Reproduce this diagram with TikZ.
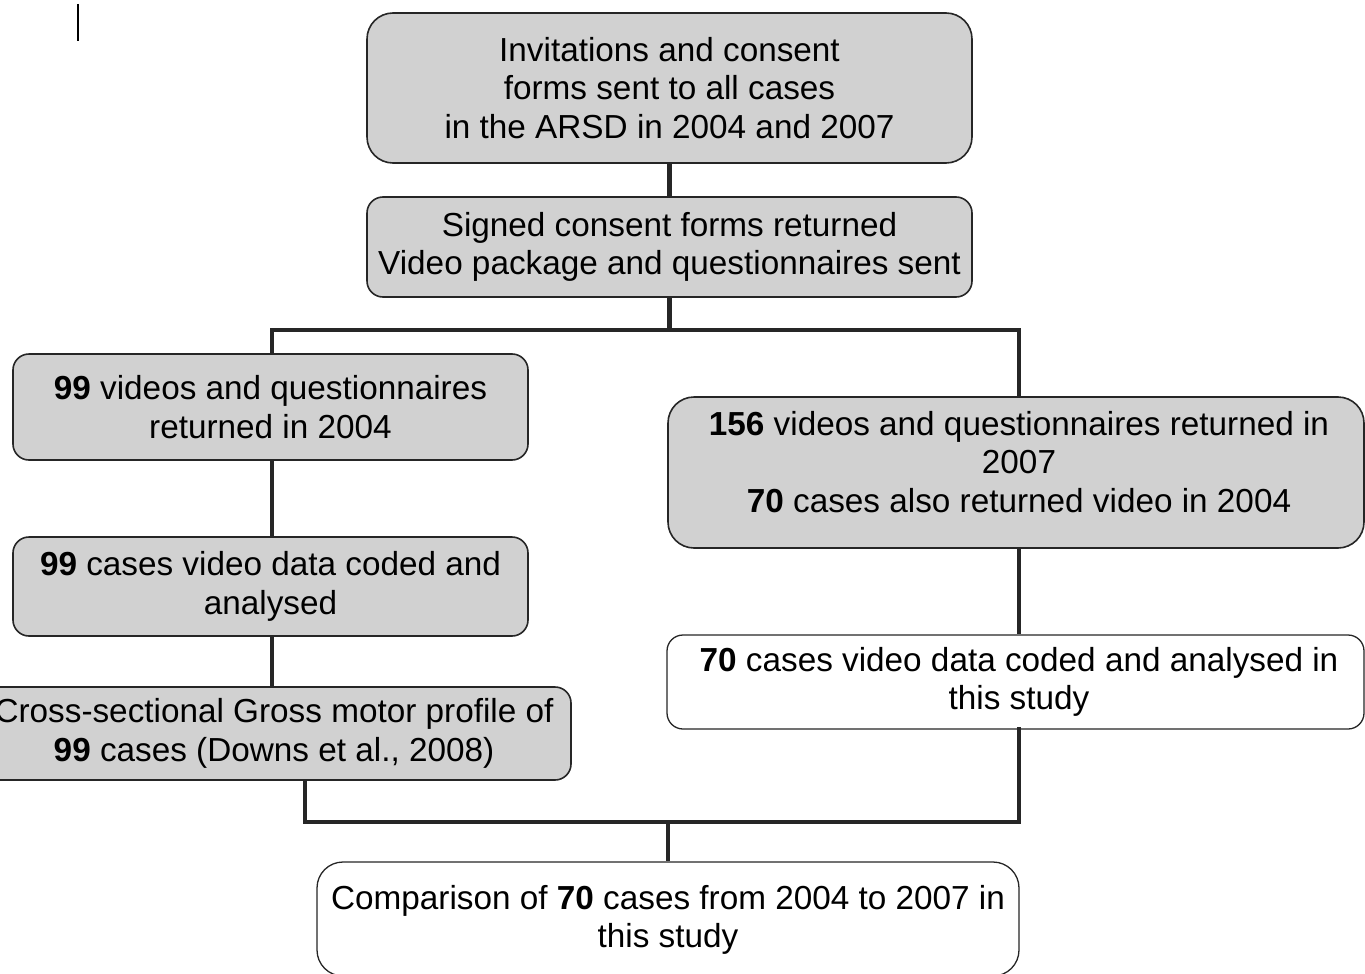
\documentclass[tikz,border=0pt]{standalone}
\usepackage{fontspec}
\setmainfont{Liberation Sans}
\begin{document}
\begin{tikzpicture}[x=1pt,y=-1pt,
  boxg/.style={draw=black!85, line width=1.6pt, fill=black!18, rounded corners=#1, inner sep=0pt},
  boxg/.default=16pt,
  boxw/.style={draw=black!85, line width=1.3pt, fill=white, rounded corners=#1, inner sep=0pt},
  boxw/.default=16pt,
  txt/.style={align=center, inner sep=0pt, font=\fontsize{33.3}{38.3}\selectfont},
  conn/.style={draw=black!85, line width=4.4pt}]
\useasboundingbox (0,0) rectangle (1365,974);
% stray mark
\coordinate (m1) at (78,4);
\coordinate (m2) at (78,41);
\draw[line width=1.8pt] (m1) -- (m2);
% boxes
\node[boxg=26pt, minimum width=605pt, minimum height=150pt] (A) at (669.5,88) {};
\node[txt] (At) at (A.center) {Invitations and consent\\forms sent to all cases\\in the ARSD in 2004 and 2007};
\node[boxg, minimum width=605pt, minimum height=100pt] (B) at (669.5,247) {};
\node[txt] (Bt) at (B.center) {Signed consent forms returned\\Video package and questionnaires sent};
\node[boxg, minimum width=515pt, minimum height=106pt] (C) at (270.5,407) {};
\node[txt] (Ct) at (C.center) {\textbf{99} videos and questionnaires\\returned in 2004};
\node[boxg=26pt, minimum width=696pt, minimum height=151pt] (D) at (1016,472.5) {};
\node[txt] (Dt) at (1019,462) {\textbf{156} videos and questionnaires returned in\\2007\\\textbf{70} cases also returned video in 2004};
\node[boxg, minimum width=515pt, minimum height=99pt] (E) at (270.5,586.5) {};
\node[txt] (Et) at (E.center) {\textbf{99} cases video data coded and\\analysed};
\node[boxg, minimum width=591pt, minimum height=93pt] (F) at (275.5,733.5) {};
\node[txt] (Ft) at (274,733.5) {Cross-sectional Gross motor profile of\\\textbf{99} cases (Downs et al., 2008)};
\node[boxw, minimum width=697pt, minimum height=94pt] (G) at (1015.5,682) {};
\node[txt] (Gt) at (1019,682) {\textbf{70} cases video data coded and analysed in\\this study};
\node[boxw=26pt, minimum width=702pt, minimum height=114pt] (H) at (668,919) {};
\node[txt] (Ht) at (668,920) {Comparison of \textbf{70} cases from 2004 to 2007 in\\this study};
% junctions
\coordinate (j1) at (669.5,330);
\coordinate (j2) at (305,822);
\coordinate (j3) at (668,822);
\coordinate (xR) at (1019,0);
\coordinate (xL) at (272,0);
% connectors
\draw[conn] (A.south) -- (B.north);
\draw[conn] (B.south) -- (j1);
\draw[conn, line cap=rect] (C.north -| xL) |- (j1) -| (D.north -| xR);
\draw[conn] (C.south -| xL) -- (E.north -| xL);
\draw[conn] (E.south -| xL) -- (F.north -| xL);
\draw[conn] (D.south -| xR) -- (G.north -| xR);
\draw[conn, line cap=rect] (F.south -| j2) -- (j2) -| (G.south -| xR);
\draw[conn] (j3) -- (H.north);
\end{tikzpicture}
\end{document}
